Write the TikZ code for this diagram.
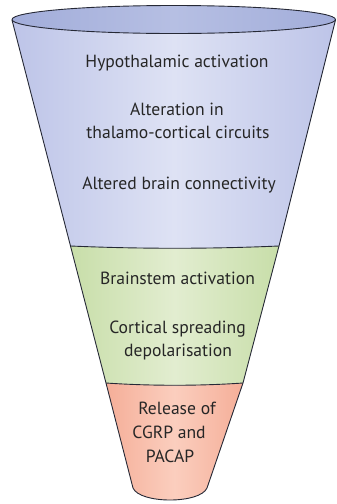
\documentclass[tikz,border=0pt]{standalone}
\usepackage{fontspec}
\setmainfont{PT Sans}
\begin{document}
\begin{tikzpicture}[x=1pt,y=-1pt,
  outline/.style={draw=edgecol,line width=0.9pt,line join=round},
  lbl/.style={anchor=base,inner sep=0pt,text=txtcol,font=\fontsize{17.6}{20}\selectfont}]
\definecolor{edgecol}{HTML}{262936}
\definecolor{txtcol}{HTML}{262626}
\definecolor{blueE}{HTML}{BDC4E8}
\definecolor{blueM}{HTML}{DEE2F4}
\definecolor{topE}{HTML}{A2ADDA}
\definecolor{topM}{HTML}{B6BFE3}
\definecolor{greenE}{HTML}{C8DEA9}
\definecolor{greenM}{HTML}{E2EDD0}
\definecolor{salE}{HTML}{F5AE98}
\definecolor{salM}{HTML}{FBCEBE}
\useasboundingbox (0,0) rectangle (337,504);
% side points
\coordinate (L0) at (12,20);
\coordinate (L1) at (70.5,246);
\coordinate (L2) at (106,383);
\coordinate (L3) at (133,488);
\coordinate (R0) at (335.5,20);
\coordinate (R1) at (279,246);
\coordinate (R2) at (243,383);
\coordinate (R3) at (207,488);
% blue body
\path[left color=blueE,right color=blueE,middle color=blueM]
  (L0) -- (L1) .. controls (140,249) and (210,249) .. (R1) -- (R0) -- cycle;
% green
\path[left color=greenE,right color=greenE,middle color=greenM]
  (L1) -- (L2) .. controls (150,386) and (200,386) .. (R2) -- (R1)
  .. controls (210,249) and (140,249) .. (L1) -- cycle;
% salmon
\path[left color=salE,right color=salE,middle color=salM]
  (L2) -- (L3) .. controls (140,504) and (200,504) .. (R3) -- (R2)
  .. controls (200,386) and (150,386) .. (L2) -- cycle;
% outlines
\draw[outline] (L0) -- (L1) -- (L2) -- (L3) .. controls (140,504) and (200,504) .. (R3)
  -- (R2) -- (R1) -- (R0);
\draw[outline] (L1) .. controls (140,249) and (210,249) .. (R1);
\draw[outline] (L2) .. controls (150,386) and (200,386) .. (R2);
% top ellipse
\draw[outline,left color=topE,right color=topE,middle color=topM]
  (173.75,19.5) ellipse [x radius=161.75, y radius=14];
% texts
\node[lbl] (t1) at (177,67) {Hypothalamic activation};
\node[lbl] (t2) at (177,115) {Alteration in};
\node[lbl] (t3) at (178,138) {thalamo-cortical circuits};
\node[lbl] (t4) at (179,189) {Altered brain connectivity};
\node[lbl] (g1) at (177.5,284) {Brainstem activation};
\node[lbl] (g2) at (177.5,333) {Cortical spreading};
\node[lbl] (g3) at (178,356) {depolarisation};
\node[lbl] (s1) at (177,414) {Release of};
\node[lbl] (s2) at (169,438) {CGRP and};
\node[lbl] (s3) at (170,462) {PACAP};
\end{tikzpicture}
\end{document}
